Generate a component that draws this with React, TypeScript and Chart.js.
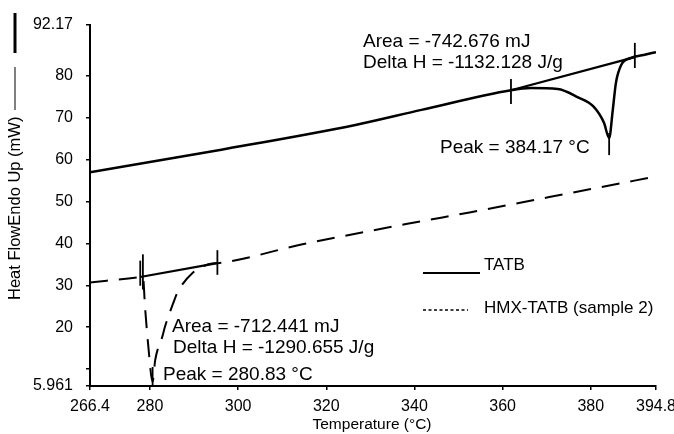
import React, { useEffect, useRef } from "react";
import { Chart, registerables } from "chart.js";

Chart.register(...registerables);

// TATB trace (temperature °C, heat flow mW)
const tatbT = [266.4, 296.2, 326.6, 341.6, 361.9, 366.4, 372.5, 377.1, 380.7, 383.0, 384.17, 385.0, 385.7, 386.9, 389.1, 392, 394.8];
const tatbV = [57.0, 62.4, 68.3, 71.9, 76.6, 77.1, 76.9, 74.9, 72.6, 68.8, 65.2, 71.9, 78.3, 82.6, 84.3, 85.0, 85.7];
const tatbBaseT = [361.9, 390.0];
const tatbBaseV = [76.6, 84.5];

// HMX-TATB (sample 2) trace
const hmxT = [266.4, 277.8, 278.4, 278.9, 279.6, 280.6, 281.2, 282.8, 283.4, 285.3, 286.2, 289.6, 294.1, 295.3, 314.6, 340, 352.5, 380, 394.8];
const hmxV = [30.7, 32.0, 32.1, 24.6, 15.8, 7.0, 12.2, 17.7, 20.1, 25.8, 28.2, 32.9, 35.2, 35.3, 39.8, 45.0, 47.4, 53.0, 56.0];
const hmxBaseT = [277.8, 295.3];
const hmxBaseV = [32.0, 35.3];

// vertical integration / peak markers
const markerT = [361.9, 390.0, 384.17, 277.8, 278.4, 295.3, 280.6];
const markerLow = [73.3, 81.9, 61.1, 29.9, 29.0, 32.5, 5.961];
const markerHigh = [79.3, 87.9, 66.4, 35.9, 37.4, 38.4, 10.5];

const xTicks = [266.4, 280, 300, 320, 340, 360, 380, 394.8];
const xTickLabels = ["266.4", "280", "300", "320", "340", "360", "380", "394.8"];
const yTicks = [5.961, 10, 20, 30, 40, 50, 60, 70, 80, 92.17];
const yTickLabels = ["5.961", "", "20", "30", "40", "50", "60", "70", "80", "92.17"];

const legendLabels = ["TATB", "HMX-TATB (sample 2)"];
const tatbNotes = ["Area = -742.676 mJ", "Delta H = -1132.128 J/g", "Peak = 384.17 °C"];
const hmxNotes = ["Area = -712.441 mJ", "Delta H = -1290.655 J/g", "Peak = 280.83 °C"];
const xTitle = "Temperature (°C)";
const yTitle = "Heat FlowEndo Up (mW)";

const FONT = "'Liberation Sans', Arial, sans-serif";

const pts = (xs: number[], ys: number[]) => xs.map((x, i) => ({ x, y: ys[i] }));

export default function App() {
  const ref = useRef<HTMLCanvasElement | null>(null);
  useEffect(() => {
    document.body.style.margin = "0";
    const canvas = ref.current!;
    const decor = {
      id: "decor",
      afterDraw(chart: any) {
        const ctx = chart.ctx as CanvasRenderingContext2D;
        ctx.save();
        ctx.fillStyle = "#000";
        ctx.strokeStyle = "#000";
        // annotations
        ctx.font = `19px ${FONT}`;
        ctx.textAlign = "left";
        ctx.textBaseline = "alphabetic";
        ctx.fillText(tatbNotes[0], 363, 47);
        ctx.fillText(tatbNotes[1], 363, 68);
        ctx.fillText(tatbNotes[2], 440, 153);
        ctx.fillText(hmxNotes[0], 172, 332);
        ctx.fillText(hmxNotes[1], 173, 353);
        ctx.fillText(hmxNotes[2], 163, 380);
        // legend
        ctx.lineWidth = 2;
        ctx.beginPath();
        ctx.moveTo(423, 273);
        ctx.lineTo(480, 273);
        ctx.stroke();
        ctx.lineWidth = 1.3;
        ctx.setLineDash([3, 2.5]);
        ctx.beginPath();
        ctx.moveTo(423, 310);
        ctx.lineTo(468, 310);
        ctx.stroke();
        ctx.setLineDash([]);
        ctx.font = `17px ${FONT}`;
        ctx.textBaseline = "middle";
        ctx.fillText(legendLabels[0], 484, 265);
        ctx.fillText(legendLabels[1], 484, 308);
        // x title
        ctx.font = `15.5px ${FONT}`;
        ctx.textAlign = "center";
        ctx.fillText(xTitle, 372, 425);
        // y title
        ctx.save();
        ctx.translate(15, 300);
        ctx.rotate(-Math.PI / 2);
        ctx.font = `16.5px ${FONT}`;
        ctx.textAlign = "left";
        ctx.fillText(yTitle, 0, 0);
        ctx.restore();
        ctx.lineWidth = 1;
        ctx.beginPath();
        ctx.moveTo(15, 110);
        ctx.lineTo(15, 67);
        ctx.stroke();
        ctx.lineWidth = 3;
        ctx.beginPath();
        ctx.moveTo(15, 53);
        ctx.lineTo(15, 13);
        ctx.stroke();
        ctx.restore();
      },
    };

    const markerSets = markerT.map((t, i) => ({
      data: [{ x: t, y: markerLow[i] }, { x: t, y: markerHigh[i] }],
      borderColor: "#000",
      borderWidth: 1.8,
      pointRadius: 0,
    }));

    const chart = new Chart(canvas, {
      type: "line",
      data: {
        datasets: [
          {
            data: pts(tatbT, tatbV),
            borderColor: "#000",
            borderWidth: 2.5,
            pointRadius: 0,
            cubicInterpolationMode: "monotone",
          },
          {
            data: pts(tatbBaseT, tatbBaseV),
            borderColor: "#000",
            borderWidth: 2.2,
            pointRadius: 0,
          },
          {
            data: pts(hmxT, hmxV),
            borderColor: "#000",
            borderWidth: 2,
            borderDash: [18, 11],
            pointRadius: 0,
            cubicInterpolationMode: "monotone",
          },
          {
            data: pts(hmxBaseT, hmxBaseV),
            borderColor: "#000",
            borderWidth: 2.2,
            pointRadius: 0,
          },
          ...markerSets,
        ] as any,
      },
      plugins: [decor],
      options: {
        animation: false,
        responsive: false,
        devicePixelRatio: 1,
        layout: { padding: { top: 25, right: 18, left: 0, bottom: 0 } },
        plugins: { legend: { display: false }, tooltip: { enabled: false } },
        scales: {
          x: {
            type: "linear",
            min: 266.4,
            max: 394.8,
            afterBuildTicks: (s: any) => {
              s.ticks = xTicks.map((v) => ({ value: v }));
            },
            afterFit: (s: any) => {
              s.height = 48;
              s.paddingRight = 0;
              s.paddingLeft = 0;
            },
            ticks: {
              color: "#000",
              font: { family: FONT, size: 16 },
              padding: 7,
              maxRotation: 0,
              autoSkip: false,
              callback: (v: any) => {
                const i = xTicks.findIndex((t) => Math.abs(t - v) < 1e-6);
                return i >= 0 ? xTickLabels[i] : "";
              },
            },
            grid: { drawOnChartArea: false, drawTicks: true, tickLength: 4, color: "#000", lineWidth: 1.5 },
            border: { display: true, color: "#000", width: 2 },
          },
          y: {
            type: "linear",
            min: 5.961,
            max: 92.17,
            afterBuildTicks: (s: any) => {
              s.ticks = yTicks.map((v) => ({ value: v }));
            },
            afterFit: (s: any) => {
              s.width = 90;
              s.paddingTop = 0;
              s.paddingBottom = 0;
            },
            ticks: {
              color: "#000",
              font: { family: FONT, size: 16 },
              padding: 13,
              autoSkip: false,
              callback: (v: any) => {
                const i = yTicks.findIndex((t) => Math.abs(t - v) < 1e-6);
                return i >= 0 ? yTickLabels[i] : "";
              },
            },
            grid: { drawOnChartArea: false, drawTicks: true, tickLength: 4, color: "#000", lineWidth: 1.5 },
            border: { display: true, color: "#000", width: 2 },
          },
        },
      } as any,
    });
    return () => chart.destroy();
  }, []);
  return (
    <div style={{ width: 674, height: 434, background: "#fff" }}>
      <canvas ref={ref} width={674} height={434} style={{ width: 674, height: 434, display: "block" }} />
    </div>
  );
}
